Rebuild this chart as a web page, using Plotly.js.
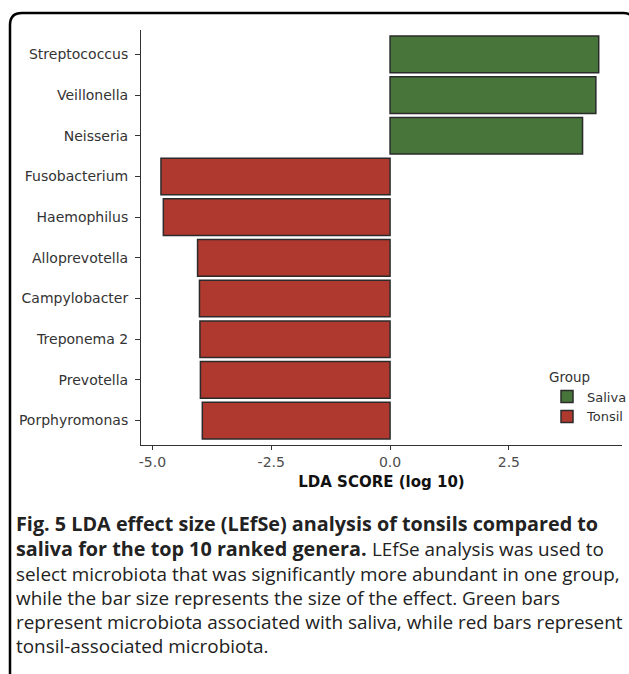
<!DOCTYPE html>
<html>
<head>
<meta charset="utf-8">
<script src="https://cdn.plot.ly/plotly-3.0.1.min.js"></script>
<style>html,body{margin:0;padding:0;background:#fff;}#chart{width:629px;height:674px;}</style>
</head>
<body>
<div id="chart"></div>
<script>
const genera = ['Streptococcus','Veillonella','Neisseria','Fusobacterium','Haemophilus','Alloprevotella','Campylobacter','Treponema 2','Prevotella','Porphyromonas'];
const groups = ['Saliva','Saliva','Saliva','Tonsil','Tonsil','Tonsil','Tonsil','Tonsil','Tonsil','Tonsil'];
const ldaScores = [4.39, 4.33, 4.05, -4.82, -4.77, -4.05, -4.01, -4.00, -3.99, -3.95];
const groupNames = ['Saliva','Tonsil'];
const groupColors = {Saliva:'#48763A', Tonsil:'#B0392F'};
const xTicks = [-5.0, -2.5, 0.0, 2.5];
const xTickLabels = ['-5.0','-2.5','0.0','2.5'];
// caption pieces: [text, bold, left x px, centre y px]
const captionParts = [
  ['Fig. 5 LDA effect size (LEfSe) analysis of tonsils compared to', true, 15, 523.5],
  ['saliva for the top 10 ranked genera.', true, 15, 548.5],
  'LEfSe analysis was used to',
  'select microbiota that was significantly more abundant in one group,',
  'while the bar size represents the size of the effect. Green bars',
  'represent microbiota associated with saliva, while red bars represent',
  'tonsil-associated microbiota.'
];
const regularPos = [[371, 548.5], [15, 573.5], [15, 597.5], [15, 622], [15, 646]];

const W = 629, H = 674;
const M = {l:141, r:7, t:30, b:229, autoexpand:false};
const pw = W - M.l - M.r, ph = H - M.t - M.b;
const px = x => (x - M.l) / pw;
const py = y => (H - M.b - y) / ph;

const traces = groupNames.map(g => {
  const idx = genera.map((_, i) => i).filter(i => groups[i] === g);
  return {
    type: 'bar', orientation: 'h', name: g,
    y: idx.map(i => genera[i]), x: idx.map(i => ldaScores[i]),
    width: 0.9,
    marker: {color: groupColors[g], line: {color: '#2b2b2b', width: 1.5}},
    hoverinfo: 'x+y'
  };
});

const f = (a,b) => px(a).toFixed(5) + ',' + py(b).toFixed(5);
const framePath = 'M ' + f(10,680) + ' L ' + f(10,25) + ' Q ' + f(10,13) + ' ' + f(22,13) +
  ' L ' + f(623,13) + ' Q ' + f(635,13) + ' ' + f(635,25) + ' L ' + f(635,680);

const annotations = [];
let r = 0;
captionParts.forEach(p => {
  let text, bold, x, y;
  if (Array.isArray(p)) { [text, bold, x, y] = p; }
  else { text = p; bold = false; [x, y] = regularPos[r++]; }
  annotations.push({
    xref:'paper', yref:'paper', x: px(x), y: py(y),
    xanchor:'left', yanchor:'middle', showarrow:false, align:'left', borderpad:0,
    text: bold ? '<b>' + text + '</b>' : text,
    font:{family:'Open Sans, sans-serif', size: bold ? 19.8 : 18.9, color:'#222'}
  });
});

const layout = {
  width: W, height: H,
  margin: M,
  paper_bgcolor:'#fff', plot_bgcolor:'#fff',
  barmode:'overlay',
  showlegend:true,
  font:{family:'DejaVu Sans, Verdana, sans-serif', color:'#333'},
  xaxis:{
    range:[-5.24, 4.88], tickvals:xTicks, ticktext:xTickLabels,
    showgrid:false, zeroline:false, showline:true, linecolor:'#333', linewidth:1,
    ticks:'outside', ticklen:4, tickcolor:'#333', tickwidth:1,
    tickfont:{size:14, color:'#4d4d4d'},
    title:{text:'<b>LDA SCORE (log 10)</b>', font:{size:15, color:'#111'}, standoff:7}
  },
  yaxis:{
    type:'category', categoryorder:'array', categoryarray: genera.slice().reverse(),
    range:[-0.6, genera.length - 0.4],
    showgrid:false, zeroline:false, showline:true, linecolor:'#333', linewidth:1,
    ticks:'outside', ticklen:5, tickcolor:'#333', tickwidth:1,
    ticklabelstandoff:4,
    tickfont:{size:14, color:'#333'}
  },
  legend:{
    x: px(547), y: py(364), xanchor:'left', yanchor:'top',
    title:{text:'Group', font:{size:13.5, color:'#333'}},
    font:{size:13, color:'#333'}, bgcolor:'rgba(0,0,0,0)',
    itemwidth:30, tracegroupgap:0
  },
  shapes:[{type:'path', xref:'paper', yref:'paper', path: framePath,
    line:{color:'#000', width:2.5}, fillcolor:'rgba(0,0,0,0)', layer:'above'}],
  annotations: annotations
};

Plotly.newPlot('chart', traces, layout, {displayModeBar:false, staticPlot:true});
</script>
</body>
</html>
